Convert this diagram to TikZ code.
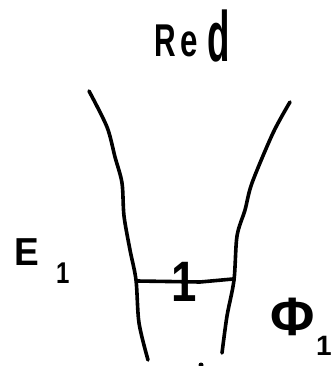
\documentclass[tikz,border=0pt]{standalone}
\usepackage{graphicx}
\usepackage{fontspec}
\setmainfont{Liberation Sans}
\tikzset{
  stroke/.style={line width=3.6pt,line cap=round,line join=round,black},
  hand/.style={inner sep=0pt,outer sep=0pt,anchor=base west,text=black},
}
\begin{document}
\begin{tikzpicture}[x=1pt,y=-1pt]
\useasboundingbox (0,0) rectangle (334,366);
\fill[white] (0,0) rectangle (334,366);
\draw[stroke] plot[smooth,tension=0.5] coordinates {(89,91) (107,127) (115,157) (122,183) (124,216) (130,250) (136,280) (139,323) (148,360)};
\draw[stroke] plot[smooth,tension=0.5] coordinates {(290,102) (273,133) (252,183) (245,210) (237,236) (234,280) (227,316) (222,353)};
\coordinate (barL) at (137,281);
\coordinate (barR) at (233,279);
\draw[stroke] (barL) -- (200,282) -- (barR);
\fill (201,365) circle (2.5);
\node[hand,font=\bfseries\fontsize{46}{46}\selectfont] (red) at (154,57) {\scalebox{0.65}[1]{R}\kern5pt\scalebox{0.68}[1]{e}\kern10pt\raisebox{-5pt}{\scalebox{0.8}[1.55]{d}}};
\node[hand,font=\bfseries\fontsize{39}{39}\selectfont] (e) at (14,265) {\scalebox{0.95}[1]{E}};
\node[hand,font=\bfseries\fontsize{30}{30}\selectfont] (e1) at (56,283) {\scalebox{0.8}[1]{1}};
\node[hand,font=\bfseries\fontsize{57}{57}\selectfont] (one) at (171,301) {\scalebox{0.8}[1]{1}};
\node[hand,font=\bfseries\fontsize{54}{54}\selectfont] (phi) at (270,335) {Φ};
\node[hand,font=\bfseries\fontsize{28}{28}\selectfont] (phi1) at (316,355) {1};
\end{tikzpicture}
\end{document}
